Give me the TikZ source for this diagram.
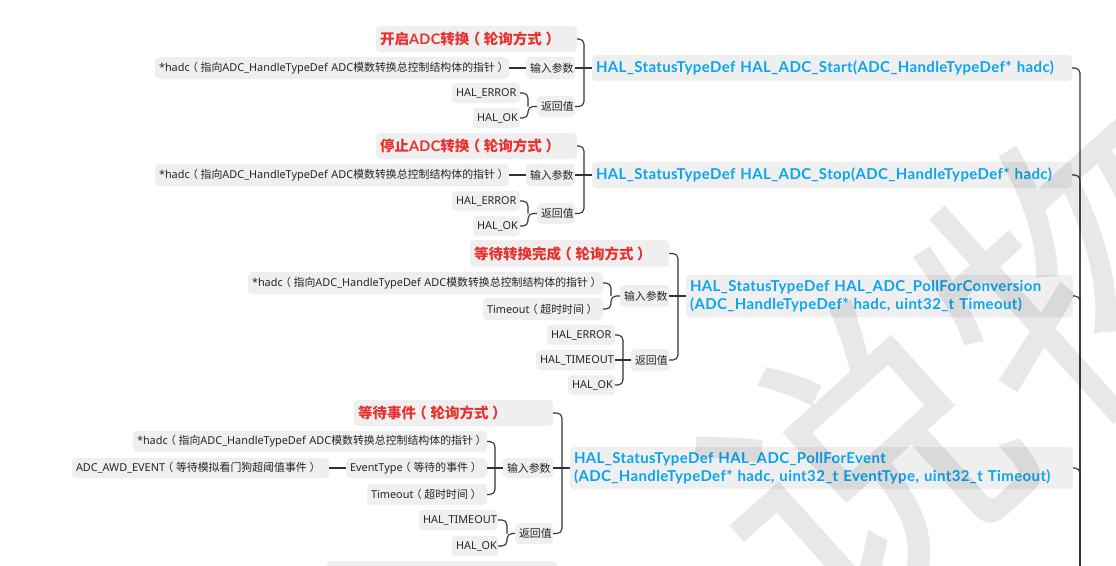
\documentclass[tikz,border=0pt]{standalone}
\usepackage{fontspec}
\setmainfont{Noto Sans CJK SC}
\newfontfamily\lat{Noto Sans}
\newfontfamily\latb{Lato}[LetterSpace=2.5]
\definecolor{boxgray}{HTML}{EFEFEF}
\definecolor{tred}{HTML}{E8312F}
\definecolor{tblue}{HTML}{0AA5EE}
\definecolor{linec}{HTML}{333333}
\tikzset{
  box/.style={fill=boxgray, rounded corners=4pt, inner xsep=4pt, inner ysep=0pt, align=left, anchor=center, text=black!85},
  small/.style={font=\fontsize{10.9}{12}\selectfont},
  redt/.style={font=\fontsize{14.5}{16}\selectfont\bfseries, text=tred},
  bluet/.style={font=\fontsize{15}{18}\selectfont\latb\bfseries, text=tblue},
  conn/.style={draw=linec, line width=1.1pt, rounded corners=5pt},
}
\newcommand\bx[7]{%
  \pgfmathsetmacro\bw{#4-#2-8}\pgfmathsetmacro\bh{#5-#3}%
  \pgfmathsetmacro\bcx{(#2+#4)/2}\pgfmathsetmacro\bcy{(#3+#5)/2}%
  \node[box,#6,minimum height=\bh pt,text width=\bw pt] (#1) at (\bcx,\bcy) {#7};}
\newcommand\lpar{\kern-0.25em（\kern0.25em}
\newcommand\rpar{\kern0.25em）\kern-0.25em}
\newcommand\hadc{\mbox{{\lat *hadc}\lpar 指向{\lat ADC\_HandleTypeDef ADC}模数转换总控制结构体的指针\rpar}}
\begin{document}
\begin{tikzpicture}[x=1pt,y=-1pt]
\useasboundingbox (0,0) rectangle (1116,565);
\clip (0,0) rectangle (1116,565);
\fill[white] (0,0) rectangle (1116,565);

% trunk
\coordinate (tr) at (1080,0);
\coordinate (bot) at (1080,620);

% ---------- section 1
\bx{t1}{376}{26}{577}{52}{redt}{开启{\latb ADC}转换\lpar 轮询方式\rpar}
\bx{h1}{155}{57}{509}{79}{small}{\hadc}
\bx{i1}{526}{57}{575}{79}{small}{输入参数}
\bx{e1}{452}{83}{520}{103}{small}{\lat HAL\_ERROR}
\bx{o1}{473}{108}{520}{128}{small}{\lat HAL\_OK}
\bx{r1}{537}{96}{575}{117}{small}{返回值}
\bx{b1}{592}{55}{1072}{81}{bluet}{HAL\_StatusTypeDef HAL\_ADC\_Start(ADC\_HandleTypeDef* hadc)}
\coordinate (rb1) at (528,0); \coordinate (mb1) at (584,0);
\draw[conn] (h1.east) -- (i1.west);
\draw[conn] (e1.east) -- (e1.east -| rb1) -- (rb1 |- r1.west);
\draw[conn] (o1.east) -- (o1.east -| rb1) -- (rb1 |- r1.west) -- (r1.west);
\draw[conn] (t1.east) -- (t1.east -| mb1) -- (mb1 |- b1.west);
\draw[conn] (r1.east) -- (r1.east -| mb1) -- (mb1 |- b1.west);
\draw[conn] (i1.east) -- (b1.west);
\draw[conn] (b1.east) -- (b1.east -| tr) -- (bot);

% ---------- section 2
\bx{t2}{376}{133}{577}{159}{redt}{停止{\latb ADC}转换\lpar 轮询方式\rpar}
\bx{h2}{155}{164}{509}{186}{small}{\hadc}
\bx{i2}{526}{164}{575}{186}{small}{输入参数}
\bx{e2}{452}{191}{520}{211}{small}{\lat HAL\_ERROR}
\bx{o2}{473}{216}{520}{236}{small}{\lat HAL\_OK}
\bx{r2}{537}{203}{575}{224}{small}{返回值}
\bx{b2}{592}{162}{1072}{188}{bluet}{HAL\_StatusTypeDef HAL\_ADC\_Stop(ADC\_HandleTypeDef* hadc)}
\coordinate (rb2) at (528,0); \coordinate (mb2) at (584,0);
\draw[conn] (h2.east) -- (i2.west);
\draw[conn] (e2.east) -- (e2.east -| rb2) -- (rb2 |- r2.west);
\draw[conn] (o2.east) -- (o2.east -| rb2) -- (rb2 |- r2.west) -- (r2.west);
\draw[conn] (t2.east) -- (t2.east -| mb2) -- (mb2 |- b2.west);
\draw[conn] (r2.east) -- (r2.east -| mb2) -- (mb2 |- b2.west);
\draw[conn] (i2.east) -- (b2.west);
\draw[conn] (b2.east) -- (b2.east -| tr) -- (bot);

% ---------- section 3
\bx{t3}{470}{240}{669}{267}{redt}{等待转换完成\lpar 轮询方式\rpar}
\bx{h3}{248}{272}{603}{294}{small}{\hadc}
\bx{m3}{483}{298}{603}{320}{small}{{\lat Timeout}\lpar 超时时间\rpar}
\bx{i3}{620}{285}{669}{307}{small}{输入参数}
\bx{e3}{547}{325}{615}{345}{small}{\lat HAL\_ERROR}
\bx{x3}{536}{350}{615}{370}{small}{\lat HAL\_TIMEOUT}
\bx{o3}{568}{375}{615}{395}{small}{\lat HAL\_OK}
\bx{r3}{631}{349}{669}{371}{small}{返回值}
\bx{b3}{686}{275}{1073}{317}{bluet}{HAL\_StatusTypeDef HAL\_ADC\_PollForConversion\\(ADC\_HandleTypeDef* hadc, uint32\_t Timeout)}
\coordinate (ib3) at (611,0); \coordinate (rb3) at (623,0); \coordinate (mb3) at (678,0);
\draw[conn] (h3.east) -- (h3.east -| ib3) -- (ib3 |- i3.west);
\draw[conn] (m3.east) -- (m3.east -| ib3) -- (ib3 |- i3.west) -- (i3.west);
\draw[conn] (e3.east) -- (e3.east -| rb3) -- (rb3 |- r3.west);
\draw[conn] (o3.east) -- (o3.east -| rb3) -- (rb3 |- r3.west);
\draw[conn] (x3.east) -- (r3.west);
\draw[conn] (t3.east) -- (t3.east -| mb3) -- (mb3 |- b3.west);
\draw[conn] (r3.east) -- (r3.east -| mb3) -- (mb3 |- b3.west);
\draw[conn] (i3.east) -- (b3.west);
\draw[conn] (b3.east) -- (b3.east -| tr) -- (bot);

% ---------- section 4
\bx{t4}{354}{400}{553}{426}{redt}{等待事件\lpar 轮询方式\rpar}
\bx{h4}{133}{431}{487}{452}{small}{\hadc}
\bx{a4}{72}{458}{329}{478}{small}{{\lat ADC\_AWD\_EVENT}\lpar 等待模拟看门狗超阈值事件\rpar}
\bx{v4}{346}{458}{487}{478}{small}{{\lat EventType}\lpar 等待的事件\rpar}
\bx{m4}{367}{484}{487}{505}{small}{{\lat Timeout}\lpar 超时时间\rpar}
\bx{i4}{503}{458}{553}{478}{small}{输入参数}
\bx{x4}{419}{510}{498}{530}{small}{\lat HAL\_TIMEOUT}
\bx{o4}{452}{536}{498}{556}{small}{\lat HAL\_OK}
\bx{r4}{515}{523}{553}{544}{small}{返回值}
\bx{b4}{570}{447}{1073}{489}{bluet}{HAL\_StatusTypeDef HAL\_ADC\_PollForEvent\\(ADC\_HandleTypeDef* hadc, uint32\_t EventType, uint32\_t Timeout)}
\coordinate (ib4) at (495,0); \coordinate (rb4) at (507,0); \coordinate (mb4) at (562,0);
\draw[conn] (a4.east) -- (v4.west);
\draw[conn] (h4.east) -- (h4.east -| ib4) -- (ib4 |- i4.west);
\draw[conn] (m4.east) -- (m4.east -| ib4) -- (ib4 |- i4.west);
\draw[conn] (v4.east) -- (i4.west);
\draw[conn] (x4.east) -- (x4.east -| rb4) -- (rb4 |- r4.west);
\draw[conn] (o4.east) -- (o4.east -| rb4) -- (rb4 |- r4.west) -- (r4.west);
\draw[conn] (t4.east) -- (t4.east -| mb4) -- (mb4 |- b4.west);
\draw[conn] (r4.east) -- (r4.east -| mb4) -- (mb4 |- b4.west);
\draw[conn] (i4.east) -- (b4.west);
\draw[conn] (b4.east) -- (b4.east -| tr) -- (bot);

% ---------- partial next section
\fill[boxgray, rounded corners=4pt] (327,561) rectangle (557,590);

% watermark
\node[text=black, text opacity=0.09, rotate=42, font=\fontsize{300}{300}\selectfont, inner sep=0] (wm) at (972,367) {说物};
\end{tikzpicture}
\end{document}
